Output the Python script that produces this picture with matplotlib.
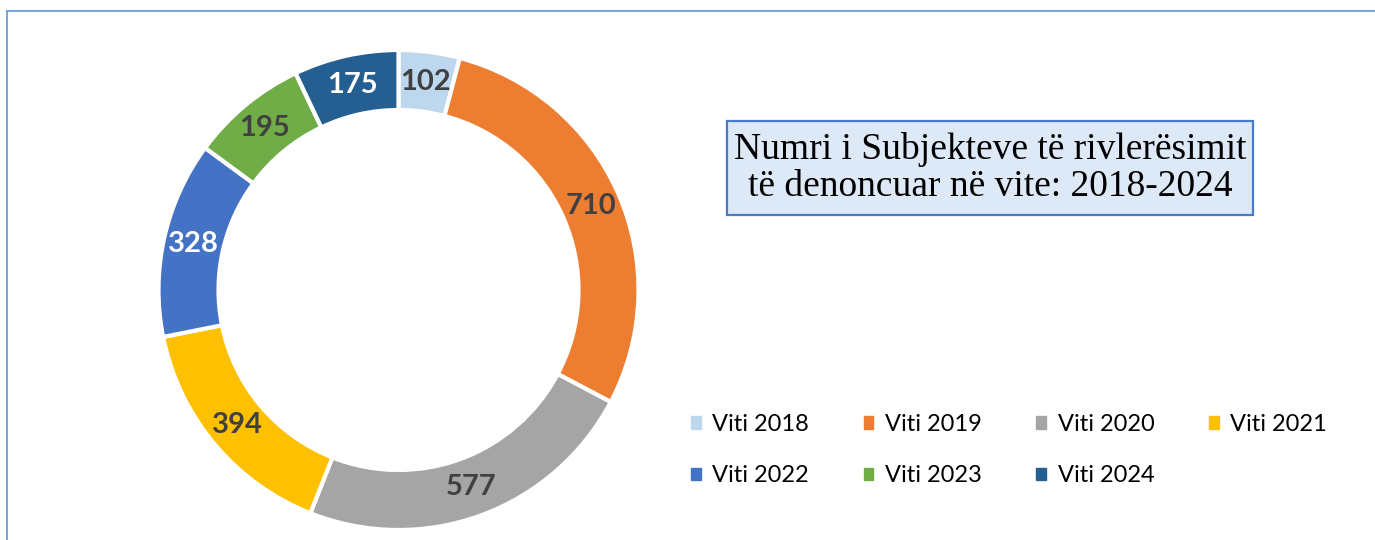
import matplotlib.pyplot as plt
from matplotlib.patches import Rectangle
from matplotlib.lines import Line2D

years = ['Viti 2018', 'Viti 2019', 'Viti 2020', 'Viti 2021', 'Viti 2022', 'Viti 2023', 'Viti 2024']
values = [102, 710, 577, 394, 328, 195, 175]
colors = ['#bdd7ee', '#ed7d31', '#a5a5a5', '#ffc000', '#4472c4', '#70ad47', '#255e91']
label_colors = ['#404040', '#404040', '#404040', '#404040', 'white', '#404040', 'white']
title = 'Numri i Subjekteve të rivlerësimit\ntë denoncuar në vite: 2018-2024'

W, H = 1375, 540
fig = plt.figure(figsize=(W / 100, H / 100), dpi=100)

# frame lines (top and left only)
fig.add_artist(Line2D([7 / W, 7 / W], [0, 1 - 11 / H], color='#6a9fd8', lw=1.3))
fig.add_artist(Line2D([7 / W, 1], [1 - 11 / H, 1 - 11 / H], color='#6a9fd8', lw=1.3))

# donut
ax = fig.add_axes([158.5 / W, 10 / H, 480 / W, 480 / H])
total = sum(values)
wedges, texts, autotexts = ax.pie(
    values, colors=colors, startangle=90, counterclock=False,
    radius=1.0, wedgeprops=dict(width=0.25, edgecolor='white', linewidth=3),
    autopct=lambda p: f'{round(p * total / 100)}', pctdistance=0.875,
)
for t, c in zip(autotexts, label_colors):
    t.set_color(c)
    t.set_fontsize(21)
    t.set_fontweight('bold')
    t.set_family('Lato')
ax.set_xlim(-1, 1)
ax.set_ylim(-1, 1)
ax.set_aspect('equal')

# title box
fig.add_artist(Rectangle((727 / W, 1 - 215 / H), 526 / W, 94 / H,
                         facecolor='#dde9f6', edgecolor='#4a7bc8', lw=1.6,
                         transform=fig.transFigure))
fig.text(990 / W, 1 - 168 / H, title, ha='center', va='center',
         family='Liberation Serif', fontsize=27, linespacing=1.13)

# legend, filled row by row
order = [0, 4, 1, 5, 2, 6, 3]
handles = [plt.Rectangle((0, 0), 1, 1, color=colors[i]) for i in order]
labels = [years[i] for i in order]
fig.legend(handles, labels, loc='center left', bbox_to_anchor=(679 / W, 1 - 450 / H),
           ncol=4, frameon=False, prop={'family': 'Lato', 'size': 17},
           borderpad=0, handlelength=0.42, handleheight=0.42, handletextpad=0.47,
           columnspacing=2.33, labelspacing=1.28)

fig.savefig('out.png', dpi=100)
